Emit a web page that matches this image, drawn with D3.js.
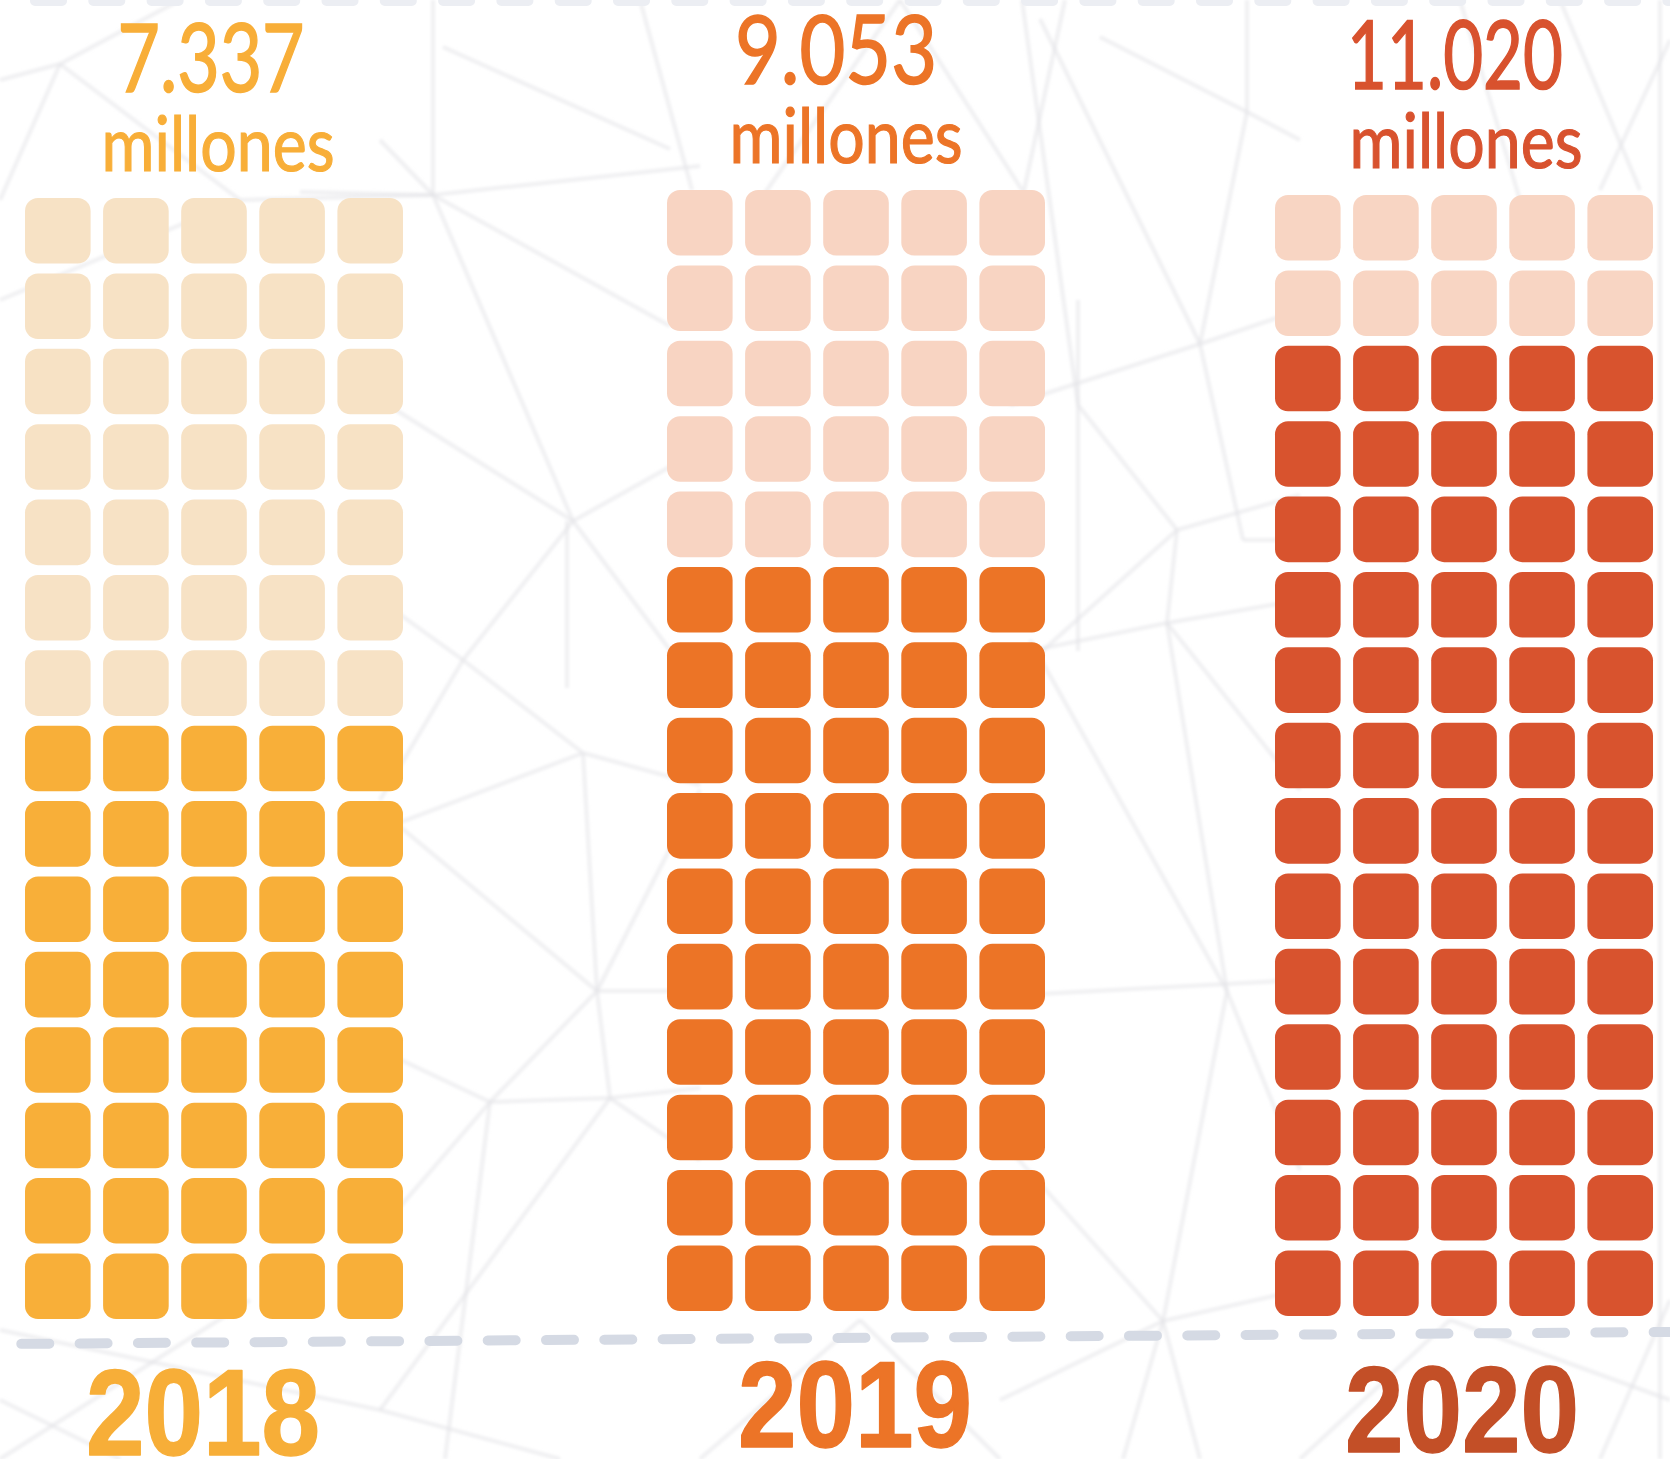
<!DOCTYPE html>
<html lang="es">
<head>
<meta charset="utf-8">
<title>Millones por año</title>
<script src="https://cdn.jsdelivr.net/npm/d3@7"></script>
<style>
  html, body { margin: 0; padding: 0; background: #ffffff; }
  svg { display: block; }
</style>
</head>
<body>
<svg id="chart" width="1670" height="1459"></svg>
<script>
// ---- data ----
const years = ["2018", "2019", "2020"];
const valuesMillions = [7337, 9053, 11020];
const filledUnits = [40, 50, 65];      // dark squares per year
const unitsPerYear = 75;               // 15 rows x 5 columns
const unitLabel = "millones";

// ---- palette ----
const darkColors  = ["#f8af39", "#ec7426", "#d8532e"];
const lightColors = ["#f7e2c5", "#f8d4c2", "#f8d5c3"];
const numberColors = ["#f8ae38", "#ec7427", "#d8522e"];
const yearColors   = ["#f7ae38", "#ec7427", "#c34f27"];

// ---- layout ----
const W = 1670, H = 1459;
const COLS = 5, ROWS = unitsPerYear / COLS;
const gridW = 378, gridH = 1121;
const groupLeft = d3.scaleOrdinal(years, [25, 667, 1275]);
const groupTop  = d3.scaleOrdinal(years, [198, 190, 195]);
const numberDx  = d3.scaleOrdinal(years, [-3, -20, -9]);
const unitDx    = d3.scaleOrdinal(years, [4, -10, 2]);
const yearDx    = d3.scaleOrdinal(years, [-11, -1, -2]);
const numberWidth = d3.scaleOrdinal(years, [187, 202, 216]);

const colBand = d3.scaleBand().domain(d3.range(COLS)).range([0, gridW]).paddingInner(0.16).paddingOuter(0);
const rowBand = d3.scaleBand().domain(d3.range(ROWS)).range([0, gridH]).paddingInner(0.13).paddingOuter(0);

const fmt = d3.formatLocale({ decimal: ",", thousands: ".", grouping: [3], currency: ["", " €"] }).format(",d");

const svg = d3.select("#chart");

// ---- background: faint triangulated mesh ----
const defs = svg.append("defs");
defs.append("filter").attr("id", "soft")
  .attr("x", "-5%").attr("y", "-5%").attr("width", "110%").attr("height", "110%")
  .append("feGaussianBlur").attr("stdDeviation", 1.6);

const meshSegments = [
  [433,0,433,195],[443,47,670,149],[380,140,433,195],[433,195,670,326],[300,192,433,195],[433,195,700,166],
  [433,195,573,521],[380,400,573,521],[573,521,700,450],[573,521,463,660],[463,660,380,800],[573,521,700,690],
  [567,521,567,688],[463,660,583,753],[583,753,700,785],[380,830,583,753],[583,753,597,991],[380,810,597,991],
  [597,991,700,790],[597,991,700,991],[597,991,490,1102],[490,1102,380,1230],[380,1050,490,1102],
  [490,1102,610,1098],[610,1098,700,1088],[597,991,610,1098],[610,1098,700,1160],[490,1102,445,1459],
  [610,1098,380,1410],[463,660,380,600],
  [1040,19,1200,344],[1247,0,1247,112],[1247,112,1200,344],[1100,37,1247,112],[1247,112,1300,140],
  [1200,344,1300,310],[1010,405,1200,344],[1078,405,1177,530],[1200,344,1243,540],[1010,680,1177,530],
  [1177,530,1300,495],[1243,540,1300,540],[1010,655,1167,623],[1167,623,1300,600],[1177,530,1167,623],
  [1167,623,1227,991],[1030,640,1227,991],[1167,623,1300,790],[1000,996,1300,980],[1227,991,1163,1321],
  [1227,991,1300,1170],[1010,1150,1163,1321],[1163,1321,1300,1290],[1163,1321,1123,1459],[1163,1321,1200,1459],
  [1078,300,1078,651],[1022,0,1078,405],
  [0,80,60,64],[60,64,180,0],[60,64,240,200],[0,200,60,64],[240,200,433,195],[0,300,240,200],
  [692,190,640,0],[1065,0,1022,200],[1600,190,1670,40],[1560,0,1640,190],[1460,0,1520,200],
  [900,0,1022,190],[760,200,900,0],[250,1300,0,1459],[0,1330,380,1410],[380,1410,560,1459],
  [700,1459,860,1320],[860,1320,1000,1459],[1300,1459,1450,1320],[1450,1320,1670,1400],[1600,1459,1670,1300],
  [1660,0,1660,1459],[1000,1400,1163,1321],[0,1400,120,1459]
];

svg.append("g")
  .attr("filter", "url(#soft)")
  .selectAll("line")
  .data(meshSegments)
  .join("line")
  .attr("x1", d => d[0]).attr("y1", d => d[1])
  .attr("x2", d => d[2]).attr("y2", d => d[3])
  .attr("stroke", "#e3e4e8")
  .attr("stroke-opacity", 0.55)
  .attr("stroke-width", 4);

// ---- dashed guide lines ----
svg.append("line")
  .attr("x1", 35).attr("y1", 1).attr("x2", W + 20).attr("y2", 1)
  .attr("stroke", "#eceef3").attr("stroke-width", 10)
  .attr("stroke-linecap", "round")
  .attr("stroke-dasharray", "27 31.3");

const baseY = x => 1344 - 0.0072 * x;
svg.append("line")
  .attr("x1", -37).attr("y1", baseY(-37)).attr("x2", W + 20).attr("y2", baseY(W + 20))
  .attr("stroke", "#d5dae4").attr("stroke-width", 10)
  .attr("stroke-linecap", "round")
  .attr("stroke-dasharray", "28 30.3");

// ---- waffle columns ----
const groups = svg.selectAll("g.year")
  .data(years.map((y, k) => ({
    year: y, value: valuesMillions[k], filled: filledUnits[k], k
  })))
  .join("g")
  .attr("class", "year")
  .attr("transform", d => `translate(${groupLeft(d.year)},${groupTop(d.year)})`);

groups.selectAll("rect")
  .data(d => d3.range(unitsPerYear).map(i => ({
    i, k: d.k, filled: i < d.filled,
    col: i % COLS, row: ROWS - 1 - Math.floor(i / COLS)
  })))
  .join("rect")
  .attr("x", u => colBand(u.col))
  .attr("y", u => rowBand(u.row))
  .attr("width", colBand.bandwidth())
  .attr("height", rowBand.bandwidth())
  .attr("rx", 13).attr("ry", 13)
  .attr("fill", u => u.filled ? darkColors[u.k] : lightColors[u.k]);

// value label above each column
groups.append("text")
  .attr("x", d => gridW / 2 + numberDx(d.year))
  .attr("y", -106)
  .attr("text-anchor", "middle")
  .attr("font-family", "Lato, 'Open Sans', sans-serif")
  .attr("font-size", 95)
  .attr("font-weight", 400)
  .attr("fill", d => numberColors[d.k])
  .attr("stroke", d => numberColors[d.k])
  .attr("stroke-width", 1.6)
  .attr("textLength", d => numberWidth(d.year))
  .attr("lengthAdjust", "spacingAndGlyphs")
  .text(d => fmt(d.value));

groups.append("text")
  .attr("x", d => gridW / 2 + unitDx(d.year))
  .attr("y", -27)
  .attr("text-anchor", "middle")
  .attr("font-family", "Lato, 'Open Sans', sans-serif")
  .attr("font-size", 75)
  .attr("font-weight", 400)
  .attr("fill", d => numberColors[d.k])
  .attr("stroke", d => numberColors[d.k])
  .attr("stroke-width", 1.2)
  .attr("textLength", 233)
  .attr("lengthAdjust", "spacingAndGlyphs")
  .text(unitLabel);

// year label below the baseline
groups.append("text")
  .attr("x", d => gridW / 2 + yearDx(d.year))
  .attr("y", gridH + 136)
  .attr("text-anchor", "middle")
  .attr("font-family", "'Liberation Sans', Arial, sans-serif")
  .attr("font-size", 122)
  .attr("font-weight", 700)
  .attr("fill", d => yearColors[d.k])
  .attr("stroke", d => yearColors[d.k])
  .attr("stroke-width", 1.5)
  .attr("stroke-linejoin", "round")
  .attr("textLength", 234)
  .attr("lengthAdjust", "spacingAndGlyphs")
  .text(d => d.year);
</script>
</body>
</html>
